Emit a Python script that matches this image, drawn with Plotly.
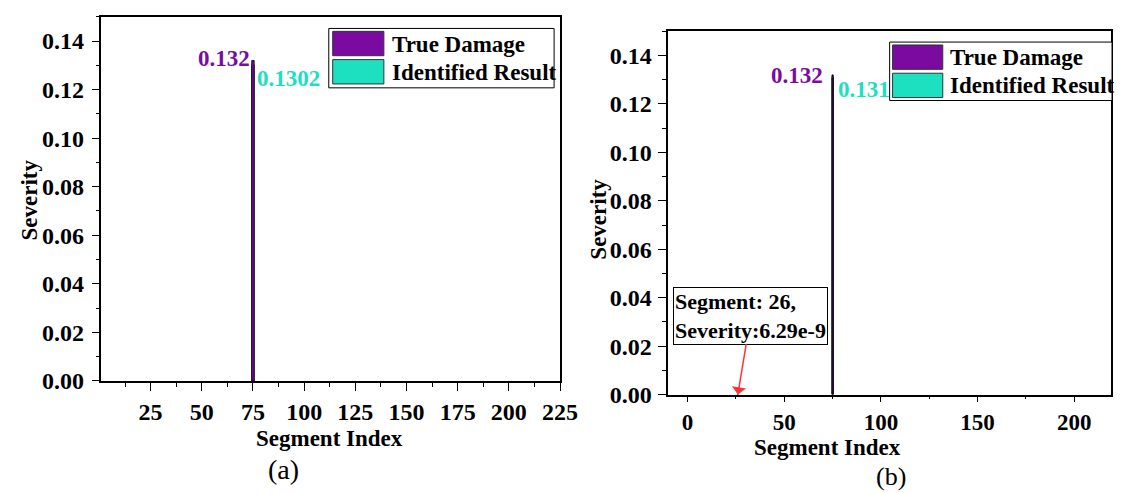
import plotly.graph_objects as go

# ---------------- data ----------------
true_seg_a = [75]
true_val_a = [0.132]
ident_seg_a = [75]
ident_val_a = [0.1302]

true_seg_b = [75]
true_val_b = [0.132]
ident_seg_b = [26, 75]
ident_val_b = [6.29e-9, 0.131]

label_true_a = "0.132"
label_ident_a = "0.1302"
label_true_b = "0.132"
label_ident_b = "0.131"

purple = "#7B0AA0"
teal = "#1DE0C0"
FONT = "Liberation Serif, Times New Roman, serif"
W, H = 1123, 493


def px(x):
    return x / W


def py(y):
    return 1 - y / H


fig = go.Figure()

# panel (a)
fig.add_trace(go.Bar(x=ident_seg_a, y=ident_val_a, width=1.2, marker=dict(color=teal, line=dict(color="black", width=0.8)),
                     name="Identified Result", xaxis="x", yaxis="y", showlegend=False))
fig.add_trace(go.Bar(x=true_seg_a, y=true_val_a, width=1.2, marker=dict(color=purple, line=dict(color="black", width=0.8)),
                     name="True Damage", xaxis="x", yaxis="y", showlegend=False))
# panel (b)
fig.add_trace(go.Bar(x=ident_seg_b, y=ident_val_b, width=0.6, marker=dict(color=teal, line=dict(color="black", width=1)),
                     name="Identified Result", xaxis="x2", yaxis="y2", showlegend=False))
fig.add_trace(go.Bar(x=true_seg_b, y=true_val_b, width=0.6, marker=dict(color=purple, line=dict(color="black", width=1)),
                     name="True Damage", xaxis="x2", yaxis="y2", showlegend=False))

tickfont = dict(family=FONT, size=24, color="black", weight="bold")
axis_common = dict(showline=True, linecolor="black", linewidth=1.6, mirror=True, ticks="outside",
                   tickwidth=1.4, tickcolor="black", showgrid=False,
                   zeroline=False, fixedrange=True)
minor_common = dict(tickcolor="black", ticks="outside", tickwidth=1.2)

fig.update_layout(
    width=W, height=H, margin=dict(l=0, r=0, t=0, b=0),
    paper_bgcolor="white", plot_bgcolor="white", barmode="overlay", showlegend=False,
    xaxis=dict(domain=[px(95), px(561)], range=[1, 225], tick0=0, dtick=25, ticklen=8, tickfont=tickfont,
               minor=dict(dtick=12.5, ticklen=4, **minor_common),
               anchor="y", **axis_common),
    yaxis=dict(domain=[py(383), py(9)], range=[0, 0.15], tick0=0, dtick=0.02, tickformat=".2f", ticklen=8,
               tickfont=tickfont, minor=dict(dtick=0.01, ticklen=4, **minor_common), ticklabelstandoff=3,
               anchor="x", **axis_common),
    xaxis2=dict(domain=[px(671), px(1121)], range=[-10, 219], tick0=0, dtick=50, ticklen=6,
                tickfont=dict(tickfont, size=23),
                minor=dict(dtick=25, ticklen=3, **minor_common),
                anchor="y2", **axis_common),
    yaxis2=dict(domain=[py(397), py(24)], range=[0, 0.15], tick0=0, dtick=0.02, tickformat=".2f", ticklen=8,
                tickfont=tickfont, minor=dict(dtick=0.01, ticklen=4, **minor_common), ticklabelstandoff=2,
                anchor="x2", **axis_common),
)

bold = dict(family=FONT, size=23, color="black", weight="bold")
ann = []
# axis titles
ann.append(dict(text="Severity", x=px(22), y=py(197), xref="paper", yref="paper", showarrow=False,
                textangle=-90, font=bold, xanchor="center", yanchor="middle"))
ann.append(dict(text="Segment Index", x=px(327), y=py(442), xref="paper", yref="paper", showarrow=False,
                font=bold, xanchor="center", yanchor="middle"))
ann.append(dict(text="(a)", x=px(280), y=py(474), xref="paper", yref="paper", showarrow=False,
                font=dict(family=FONT, size=28, color="black"), xanchor="center", yanchor="middle"))
ann.append(dict(text="Severity", x=px(600), y=py(217), xref="paper", yref="paper", showarrow=False,
                textangle=-90, font=bold, xanchor="center", yanchor="middle"))
ann.append(dict(text="Segment Index", x=px(833), y=py(451), xref="paper", yref="paper", showarrow=False,
                font=bold, xanchor="center", yanchor="middle"))
ann.append(dict(text="(b)", x=px(897), y=py(481), xref="paper", yref="paper", showarrow=False,
                font=dict(family=FONT, size=26, color="black"), xanchor="center", yanchor="middle"))

# value labels
ann.append(dict(text=label_true_a, x=true_seg_a[0], y=true_val_a[0], xref="x", yref="y", showarrow=False,
                xanchor="right", yanchor="middle", xshift=-1, yshift=2,
                font=dict(family=FONT, size=23, color=purple, weight="bold")))
ann.append(dict(text=label_ident_a, x=ident_seg_a[0], y=ident_val_a[0], xref="x", yref="y", showarrow=False,
                xanchor="left", yanchor="middle", xshift=2, yshift=-14,
                font=dict(family=FONT, size=23, color=teal, weight="bold")))
ann.append(dict(text=label_true_b, x=true_seg_b[0], y=true_val_b[0], xref="x2", yref="y2", showarrow=False,
                xanchor="right", yanchor="middle", xshift=-8, yshift=-1,
                font=dict(family=FONT, size=23, color=purple, weight="bold")))
ann.append(dict(text=label_ident_b, x=ident_seg_b[1], y=ident_val_b[1], xref="x2", yref="y2", showarrow=False,
                xanchor="left", yanchor="middle", xshift=3, yshift=-12,
                font=dict(family=FONT, size=23, color=teal, weight="bold")))

# callout in (b)
ann.append(dict(text="Segment: 26,<br>Severity:6.29e-9", x=ident_seg_b[0], y=ident_val_b[0], xref="x2", yref="y2",
                showarrow=True, ax=13, ay=-79, arrowcolor="#FF3333", arrowwidth=1.5, arrowhead=1, arrowsize=1.6,
                font=dict(family=FONT, size=22, color="black", weight="bold"), align="left",
                bordercolor="black", borderwidth=1, borderpad=1, bgcolor="white"))

# custom legends
shapes = []
legends = [
    dict(box=(326, 21, 555, 82), sw=[(330, 24, 382, 49), (330, 53, 382, 78)], tx=388, ty=[37, 66]),
    dict(box=(896, 35, 1122, 95), sw=[(899, 38, 950, 63), (899, 67, 950, 92)], tx=955, ty=[51, 80]),
]
names = ["True Damage", "Identified Result"]
cols = [purple, teal]
for lg in legends:
    x0, y0, x1, y1 = lg["box"]
    shapes.append(dict(type="rect", xref="paper", yref="paper", x0=px(x0), x1=px(x1), y0=py(y1), y1=py(y0),
                       line=dict(color="black", width=1), fillcolor="white", layer="above"))
    for (a0, b0, a1, b1), c, n, ty in zip(lg["sw"], cols, names, lg["ty"]):
        shapes.append(dict(type="rect", xref="paper", yref="paper", x0=px(a0), x1=px(a1), y0=py(b1), y1=py(b0),
                           line=dict(color="#333333", width=1), fillcolor=c, layer="above"))
        ann.append(dict(text=n, x=px(lg["tx"]), y=py(ty), xref="paper", yref="paper", showarrow=False,
                        xanchor="left", yanchor="middle", font=bold))

fig.update_layout(annotations=ann, shapes=shapes)
fig.write_html("out.html")
